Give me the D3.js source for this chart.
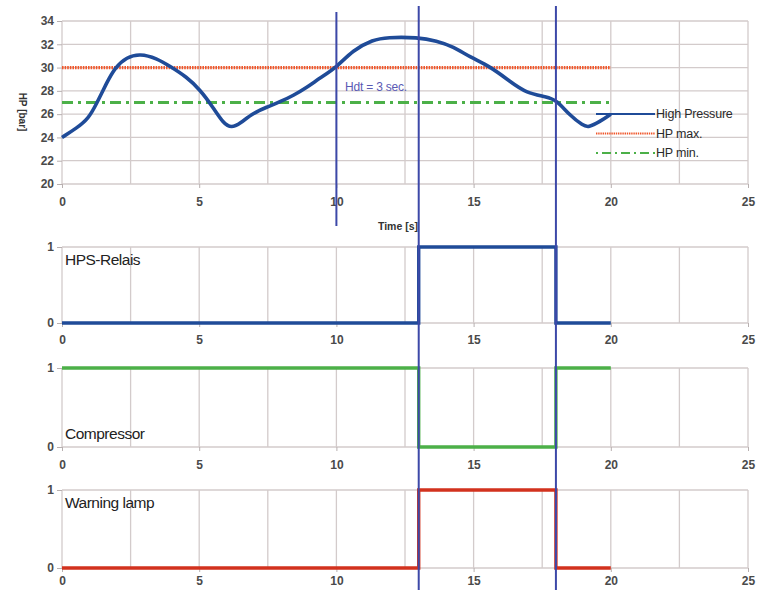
<!DOCTYPE html>
<html>
<head>
<meta charset="utf-8">
<script src="https://cdn.jsdelivr.net/npm/d3@7"></script>
<style>
  body { margin: 0; background: #fff; }
  svg { display: block; font-family: "Liberation Sans", Arial, sans-serif; }
</style>
</head>
<body>
<svg id="chart"></svg>
<script>
// time axis
const xTicks = [0, 5, 10, 15, 20, 25];
const xGrid = [0, 2.5, 5, 7.5, 10, 12.5, 15, 17.5, 20, 22.5, 25];

// high pressure curve
const hpTime = [0, 0.53, 0.96, 1.26, 1.63, 1.93, 2.36, 2.84, 3.45, 3.94, 4.54, 5.03, 5.5, 5.88, 6.18, 6.49, 6.97, 7.46, 7.94, 8.43, 8.92, 9.4, 10, 10.6, 11.34, 11.83, 12.97, 13.65, 14.26, 14.87, 15.6, 16.33, 16.93, 17.66, 18.03, 18.5, 19, 19.18, 19.6, 20];
const hpValue = [24, 24.8, 25.6, 26.9, 28.7, 30, 30.9, 31.2, 30.8, 30.1, 29.2, 28.1, 26.6, 25.2, 24.8, 25.2, 26.1, 26.6, 27.05, 27.6, 28.3, 29.1, 30, 31.5, 32.4, 32.6, 32.6, 32.3, 31.8, 30.9, 30.1, 28.8, 27.8, 27.5, 27.2, 25.9, 25.0, 24.85, 25.35, 26];
const hpMax = [30, 30];
const hpMin = [27, 27];
const limitTime = [0, 20];
const hpTicks = [20, 22, 24, 26, 28, 30, 32, 34];

// switching signals
const sigTime = [0, 13, 18, 20];
const hpsRelais = [0, 1, 0, 0];
const compressor = [1, 0, 1, 1];
const warningLamp = [0, 1, 0, 0];

// marker lines
const markers = [10, 13, 18];

const legendLabels = ['High Pressure', 'HP max.', 'HP min.'];

const width = 757, height = 590;
const svg = d3.select('#chart').attr('width', width).attr('height', height);

const x = d3.scaleLinear().domain([0, 25]).range([62, 748]);
const gridColor = '#d3cbcb';
const labelColor = '#4a4a4a';

function drawFrame(y, yTicks, yGridVals, labelY) {
    const g = svg.append('g');
    g.selectAll('line.vg')
        .data(xGrid)
        .enter()
        .append('line')
        .attr('x1', (d) => x(d)).attr('x2', (d) => x(d))
        .attr('y1', y.range()[1]).attr('y2', y.range()[0])
        .style('stroke', gridColor).style('stroke-width', 1.3);
    g.selectAll('line.hg')
        .data(yGridVals)
        .enter()
        .append('line')
        .attr('x1', x(0)).attr('x2', x(25))
        .attr('y1', (d) => y(d)).attr('y2', (d) => y(d))
        .style('stroke', gridColor).style('stroke-width', 1.3);

    const yAxis = g.append('g')
        .attr('transform', `translate(${x(0)},0)`)
        .call(d3.axisLeft(y).tickValues(yTicks).tickSize(5).tickPadding(3).tickFormat(d3.format('d')));
    yAxis.select('.domain').remove();
    yAxis.selectAll('line').style('stroke', '#b8b0b0');
    yAxis.selectAll('text')
        .style('font-size', '12px').style('font-weight', 'bold').style('fill', labelColor);

    const xAxis = g.append('g')
        .attr('transform', `translate(0,${y.range()[0]})`)
        .call(d3.axisBottom(x).tickValues(xTicks).tickSize(4).tickPadding(2).tickFormat(d3.format('d')));
    xAxis.select('.domain').remove();
    xAxis.selectAll('line').style('stroke', '#b8b0b0');
    xAxis.selectAll('text')
        .attr('y', labelY - y.range()[0]).attr('dy', '0.35em')
        .style('font-size', '12px').style('font-weight', 'bold').style('fill', labelColor);
    return g;
}

// ---- top chart: high pressure
const yHp = d3.scaleLinear().domain([20, 34]).range([184, 21]);
drawFrame(yHp, hpTicks, hpTicks, 202);

const limitLine = d3.line().x((d, i) => x(limitTime[i])).y((d) => yHp(d));
svg.append('path')
    .attr('d', limitLine(hpMax))
    .style('fill', 'none').style('stroke', '#f0562a').style('stroke-width', 3.2)
    .style('stroke-dasharray', '1.6,1');
svg.append('path')
    .attr('d', limitLine(hpMin))
    .style('fill', 'none').style('stroke', '#4cb048').style('stroke-width', 3.2)
    .style('stroke-dasharray', '11,5,3,5');

const hpLine = d3.line()
    .x((d, i) => x(hpTime[i]))
    .y((d) => yHp(d))
    .curve(d3.curveBasis);
svg.append('path')
    .attr('d', hpLine(hpValue))
    .style('fill', 'none').style('stroke', '#1f4b98').style('stroke-width', 3.6)
    .style('stroke-linejoin', 'round');

svg.append('text')
    .attr('transform', 'translate(19,112) rotate(90)')
    .attr('text-anchor', 'middle')
    .style('font-size', '10px').style('font-weight', 'bold').style('fill', '#333')
    .text('HP [bar]');
svg.append('text')
    .attr('x', 398).attr('y', 230)
    .attr('text-anchor', 'middle')
    .style('font-size', '10.5px').style('font-weight', 'bold').style('fill', '#333')
    .text('Time [s]');
svg.append('text')
    .attr('x', 345).attr('y', 91)
    .style('font-size', '12px').style('fill', '#5a5ab4').style('letter-spacing', '-0.2px')
    .text('Hdt = 3 sec.');

// legend
const legendStyles = [
    { stroke: '#1f4b98', width: 2.2, dash: null },
    { stroke: '#f0562a', width: 2.2, dash: '1.4,0.8' },
    { stroke: '#4cb048', width: 2.2, dash: '2,4,9,4' },
];
const legend = svg.append('g').attr('transform', 'translate(596,114)');
legendLabels.forEach((label, i) => {
    const row = legend.append('g').attr('transform', `translate(0,${i * 19.5})`);
    row.append('line')
        .attr('x1', 0).attr('x2', 59)
        .style('stroke', legendStyles[i].stroke)
        .style('stroke-width', legendStyles[i].width)
        .style('stroke-dasharray', legendStyles[i].dash);
    row.append('text')
        .attr('x', 60).attr('dy', '0.35em')
        .style('font-size', '12.5px').style('fill', '#2a2a2a').style('letter-spacing', '-0.2px')
        .text(label);
});

// ---- signal panels
const panels = [
    { label: 'HPS-Relais', values: hpsRelais, color: '#1f4b98', top: 247, bottom: 323, labelY: 340 },
    { label: 'Compressor', values: compressor, color: '#4cb048', top: 368, bottom: 447, labelY: 465, textAtBottom: true },
    { label: 'Warning lamp', values: warningLamp, color: '#d2321e', top: 490, bottom: 568, labelY: 581 },
];

panels.forEach((p) => {
    const y = d3.scaleLinear().domain([0, 1]).range([p.bottom, p.top]);
    drawFrame(y, [0, 1], [0, 1], p.labelY);
    const step = d3.line()
        .x((d, i) => x(sigTime[i]))
        .y((d) => y(d))
        .curve(d3.curveStepAfter);
    svg.append('path')
        .attr('d', step(p.values))
        .style('fill', 'none').style('stroke', p.color).style('stroke-width', 3.4);
    svg.append('text')
        .attr('x', 65)
        .attr('y', p.textAtBottom ? p.bottom - 8 : p.top + 18)
        .style('font-size', '15.5px').style('fill', '#222').style('letter-spacing', '-0.5px')
        .text(p.label);
});

// ---- marker lines
svg.selectAll('line.marker')
    .data(markers)
    .enter()
    .append('line')
    .attr('x1', (d) => x(d)).attr('x2', (d) => x(d))
    .attr('y1', (d) => (d === 10 ? 12 : 6))
    .attr('y2', (d) => (d === 10 ? 226 : height))
    .style('stroke', '#3c48a8').style('stroke-width', 2);
</script>
</body>
</html>
